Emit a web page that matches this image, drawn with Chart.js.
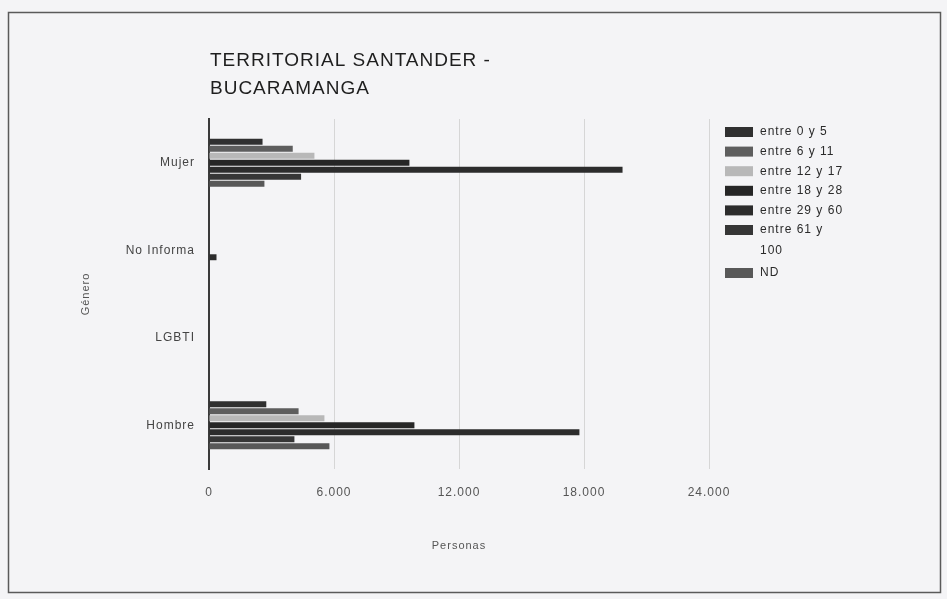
<!DOCTYPE html>
<html>
<head>
<meta charset="utf-8">
<script src="https://cdn.jsdelivr.net/npm/chart.js@4/dist/chart.umd.min.js"></script>
<style>
  html, body { margin: 0; padding: 0; background: #f3f3f5; }
  #wrap { width: 947px; height: 599px; }
</style>
</head>
<body>
<div id="wrap"><canvas id="generoChart" width="947" height="599"></canvas></div>
<script>
const generos = ['Mujer', 'No Informa', 'LGBTI', 'Hombre'];
const rangos = ['entre 0 y 5', 'entre 6 y 11', 'entre 12 y 17', 'entre 18 y 28', 'entre 29 y 60', 'entre 61 y 100', 'ND'];
const entre0y5 = [2570, 0, 0, 2750];
const entre6y11 = [4020, 0, 0, 4300];
const entre12y17 = [5060, 0, 0, 5540];
const entre18y28 = [9620, 0, 0, 9860];
const entre29y60 = [19850, 360, 0, 17780];
const entre61y100 = [4420, 0, 0, 4100];
const noDato = [2660, 0, 0, 5780];
const ticksX = [0, 6000, 12000, 18000, 24000];

const colores = ['#303030', '#5e5e5e', '#b8b8b8', '#262626', '#2c2c2c', '#363636', '#585858'];
const series = [entre0y5, entre6y11, entre12y17, entre18y28, entre29y60, entre61y100, noDato];

const FONT = "'Liberation Sans', Arial, sans-serif";

// marco, titulo y leyenda dibujados a mano
const decor = {
    id: 'decor',
    beforeDraw(chart) {
        const c = chart.ctx;
        c.save();
        c.fillStyle = '#f4f4f6';
        c.fillRect(0, 0, chart.width, chart.height);
        c.strokeStyle = '#5a5a5a';
        c.lineWidth = 1.5;
        c.strokeRect(8.5, 12.5, 932, 580);
        c.restore();
        // el escaneo deja el texto mas espaciado
        c.letterSpacing = '1px';
    },
    afterDraw(chart) {
        const c = chart.ctx;
        const area = chart.chartArea;
        c.save();
        c.fillStyle = '#1e1e1e';
        c.font = '19px ' + FONT;
        c.letterSpacing = '1px';
        c.textBaseline = 'middle';
        c.textAlign = 'left';
        c.fillText('TERRITORIAL SANTANDER -', area.left + 1, 61);
        c.fillText('BUCARAMANGA', area.left + 1, 89);

        // leyenda (corta las etiquetas largas en dos lineas)
        c.font = '12px ' + FONT;
        let y = 132;
        chart.data.datasets.forEach(ds => {
            c.letterSpacing = '0px';
            const words = ds.label.split(' ');
            const lines = [];
            let cur = '';
            words.forEach(w => {
                const t = cur ? cur + ' ' + w : w;
                if (c.measureText(t).width > 73 && cur) { lines.push(cur); cur = w; }
                else cur = t;
            });
            lines.push(cur);
            c.letterSpacing = '1px';
            c.fillStyle = ds.backgroundColor;
            c.fillRect(725, y - 5, 28, 10);
            c.fillStyle = '#2a2a2a';
            lines.forEach((ln, i) => c.fillText(ln, 760, y + i * 21));
            y += lines.length === 1 ? 19.6 : 43;
        });
        c.restore();
    }
};

new Chart(document.getElementById('generoChart'), {
    type: 'bar',
    data: {
        labels: generos,
        datasets: rangos.map((r, i) => ({
            label: r,
            data: series[i],
            backgroundColor: colores[i],
            categoryPercentage: 0.56,
            barPercentage: 0.85
        }))
    },
    options: {
        indexAxis: 'y',
        responsive: false,
        animation: false,
        layout: { padding: { left: 8, right: 238, top: 119, bottom: 46 } },
        scales: {
            x: {
                min: 0,
                max: 24000,
                afterBuildTicks: s => { s.ticks = ticksX.map(v => ({ value: v })); },
                afterFit: s => { s.height = 84; },
                grid: { color: '#d6d6d6', drawTicks: false },
                border: { display: false },
                ticks: {
                    padding: 16,
                    color: '#555',
                    font: { family: FONT, size: 12 },
                    callback: v => v.toLocaleString('de-DE')
                },
                title: {
                    display: true,
                    text: 'Personas',
                    color: '#555',
                    font: { family: FONT, size: 11 },
                    padding: { top: 0, bottom: 0 }
                }
            },
            y: {
                afterFit: s => { s.width = 201; },
                grid: { display: false, drawTicks: false },
                border: { display: true, color: '#3a3a3a', width: 2 },
                ticks: {
                    padding: 14,
                    color: '#444',
                    font: { family: FONT, size: 12 }
                },
                title: {
                    display: true,
                    text: 'Género',
                    color: '#555',
                    font: { family: FONT, size: 11 },
                    padding: { top: 71, bottom: 0 }
                }
            }
        },
        plugins: {
            legend: { display: false },
            tooltip: { enabled: false }
        }
    },
    plugins: [decor]
});
</script>
</body>
</html>
